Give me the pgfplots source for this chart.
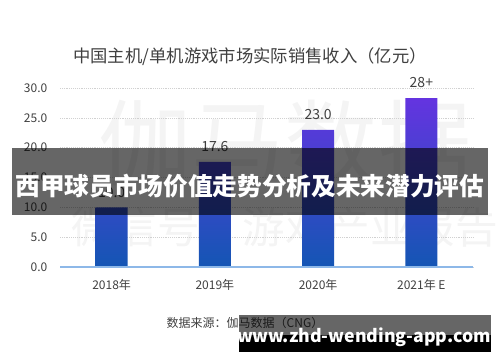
\documentclass[border=0pt]{standalone}
\usepackage{pgfplots}
\pgfplotsset{compat=1.18}
\usepackage{fontspec}
\setmainfont{Noto Sans CJK SC}
\definecolor{txt}{HTML}{404040}
\definecolor{bartop}{HTML}{6434E0}
\definecolor{barbot}{HTML}{1456B4}
\definecolor{base}{HTML}{8DB8E8}
\definecolor{wm}{HTML}{F4F4F4}
\begin{document}
\begin{tikzpicture}[x=0.75pt,y=0.75pt]
\path[use as bounding box] (0,0) rectangle (500,362);
\coordinate (O) at (60,95);
% watermark
\node[text=wm, font=\fontsize{70}{70}\selectfont, inner sep=0] at (285,362-143) {伽马数据};
\node[text=wm, font=\fontsize{32}{32}\selectfont, inner sep=0] at (285,362-227) {微信号：游戏产业报告};
% title
\node[text=txt, font=\fontsize{13}{13}\selectfont] at (250,362-57) {中国主机/单机游戏市场实际销售收入（亿元）};
\begin{axis}[
  at={(O)}, anchor=south west,
  scale only axis, width=309.75pt, height=134.25pt,
  xmin=-0.5, xmax=3.5, ymin=0, ymax=30,
  axis line style={draw=none}, tick style={draw=none},
  xtick={0,1,2,3}, xticklabels={2018年,2019年,2020年,2021年 E},
  ytick={0,5,10,15,20,25,30},
  /pgf/number format/assume math mode=true,
  yticklabel style={/pgf/number format/fixed, /pgf/number format/fixed zerofill, /pgf/number format/precision=1,
    text=txt, font=\fontsize{9}{9}\selectfont, xshift=-6pt},
  xticklabel style={text=txt, font=\fontsize{9}{9}\selectfont, yshift=-6pt},
  ymajorgrids, grid style={densely dotted, color=black!18},
  clip=false,
]
\addplot[ybar, bar width=24pt, draw=none, top color=bartop, bottom color=barbot,
  point meta=explicit symbolic,
  nodes near coords, nodes near coords style={text=txt, font=\fontsize{10.5}{10.5}\selectfont, yshift=4pt}]
  coordinates {(0,10.0)[10.0] (1,17.6)[17.6] (2,23.0)[23.0] (3,28.3)[28+]};
\draw[base, line width=0.9pt] (axis cs:-0.5,0) -- (axis cs:3.5,0);
\end{axis}
% source
\node[text=txt, font=\fontsize{9}{9}\selectfont] at (245,362-323) {数据来源：伽马数据（CNG）};
% overlay band
\fill[black, opacity=0.6] (12,362-148) rectangle (488,362-215);
\node[text=white, font=\fontsize{18.5}{18.5}\selectfont\bfseries] at (250,362-186) {西甲球员市场价值走势分析及未来潜力评估};
% url bar
\fill[black, opacity=0.6] (239,362-315) rectangle (491,362-335);
\fill[black] (239,362-335) rectangle (491,362-352);
\node[text=white, font=\fontsize{13.3}{13.3}\selectfont\bfseries] at (364,362-337) {www.zhd-wending-app.com};
\end{tikzpicture}
\end{document}
